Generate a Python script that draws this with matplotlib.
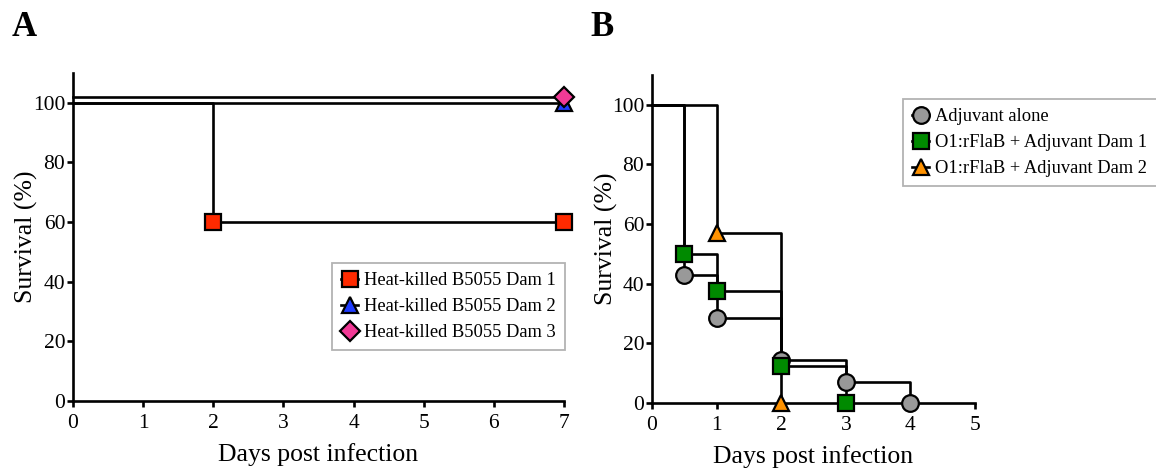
import matplotlib
matplotlib.use("Agg")
import matplotlib.pyplot as plt

plt.rcParams['font.family'] = ['Liberation Serif', 'DejaVu Serif']

# Panel A: heat-killed B5055 dams
a_labels = ['Heat-killed B5055 Dam 1', 'Heat-killed B5055 Dam 2', 'Heat-killed B5055 Dam 3']
a_times = [[0, 2, 7], [0, 7], [0, 7]]
a_surv = [[100, 60, 60], [100, 100], [102, 102]]

# Panel B: O1:rFlaB vaccination
b_labels = ['Adjuvant alone', 'O1:rFlaB + Adjuvant Dam 1', 'O1:rFlaB + Adjuvant Dam 2']
b_times = [[0, 0.5, 1, 2, 3, 4], [0, 0.5, 1, 2, 3], [0, 1, 2]]
b_surv = [[100, 42.9, 28.6, 14.3, 7.1, 0], [100, 50, 37.5, 12.5, 0], [100, 57.1, 0]]

a_style = [('s', '#ff2a00'), ('^', '#1f3cff'), ('D', '#f23a96')]
b_style = [('o', '#999999'), ('s', '#008a00'), ('^', '#ff9200')]

fig = plt.figure(figsize=(11.56, 4.70), dpi=100)
axA = fig.add_axes([0.0631, 0.1468, 0.4248, 0.698])
axB = fig.add_axes([0.564, 0.1426, 0.2794, 0.698])


def draw(ax, times, surv, styles, labels):
    for t, s, (m, c), lab in zip(times, surv, styles, labels):
        ax.step(t, s, where='post', color='black', lw=1.9, zorder=2, clip_on=False)
        ms = 12 if m != 'D' else 10
        ax.plot(t[1:], s[1:], ls='none', marker=m, ms=ms, mfc=c, mec='black',
                mew=1.6, zorder=3, clip_on=False)
        ax.plot([], [], ls='-', lw=1.9, color='black', marker=m, ms=ms, mfc=c,
                mec='black', mew=1.6, label=lab)


def style_axes(ax, xmax):
    ax.set_xlim(0, xmax)
    ax.set_ylim(0, 110)
    ax.set_xticks(range(0, xmax + 1))
    ax.set_yticks(range(0, 101, 20))
    for sp in ['top', 'right']:
        ax.spines[sp].set_visible(False)
    for sp in ['left', 'bottom']:
        ax.spines[sp].set_linewidth(1.9)
    ax.tick_params(direction='out', length=4.5, width=1.9, labelsize=15.5)
    ax.tick_params(axis='x', pad=5)
    ax.tick_params(axis='y', pad=1)
    ax.set_xlabel('Days post infection', fontsize=18.5, labelpad=7)
    ax.set_ylabel('Survival (%)', fontsize=18.5, labelpad=-4)


leg_kw = dict(loc='upper left', bbox_transform=fig.transFigure, fontsize=13.3,
              fancybox=False, edgecolor='#a0a0a0', handlelength=0.9,
              handletextpad=0.35, borderpad=0.5, labelspacing=0.48,
              borderaxespad=0)

draw(axA, a_times, a_surv, a_style, a_labels)
style_axes(axA, 7)
legA = axA.legend(bbox_to_anchor=(332 / 1156, 1 - 263 / 470), **leg_kw)
legA.get_frame().set_linewidth(1.3)

draw(axB, b_times, b_surv, b_style, b_labels)
style_axes(axB, 5)
legB = axB.legend(bbox_to_anchor=(903 / 1156, 1 - 99 / 470), **leg_kw)
legB.get_frame().set_linewidth(1.3)

fig.text(12 / 1156, 1 - 36 / 470, 'A', fontsize=25, fontweight='bold', va='baseline')
fig.text(590 / 1156, 1 - 36 / 470, 'B', fontsize=25, fontweight='bold', va='baseline')

fig.savefig('out.png', dpi=100)
